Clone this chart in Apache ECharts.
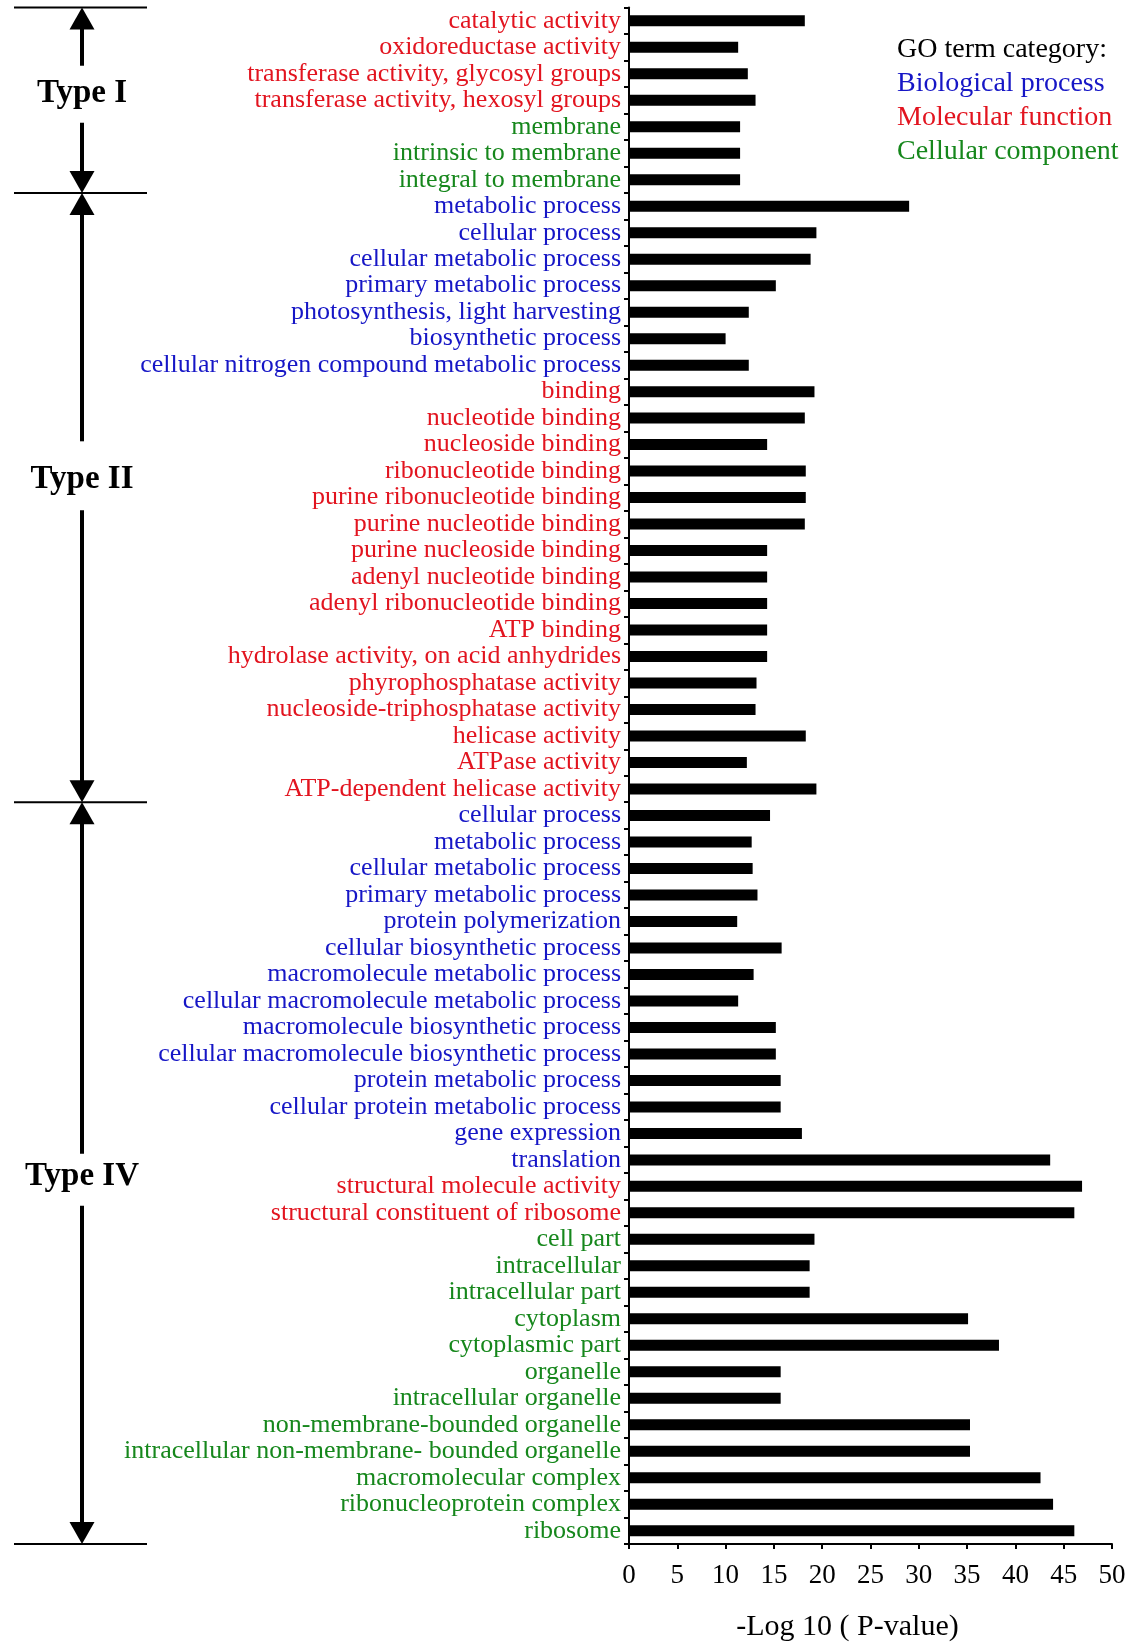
<!DOCTYPE html>
<html><head><meta charset="utf-8">
<script src="https://cdn.jsdelivr.net/npm/echarts@6/dist/echarts.min.js"></script>
<style>html,body{margin:0;padding:0;background:#fff}#chart{width:1138px;height:1649px}</style>
</head><body><div id="chart"></div>
<script>
// ---------- DATA ----------
const categories = [
  'catalytic activity','oxidoreductase activity','transferase activity, glycosyl groups','transferase activity, hexosyl groups',
  'membrane','intrinsic to membrane','integral to membrane',
  'metabolic process','cellular process','cellular metabolic process','primary metabolic process','photosynthesis, light harvesting',
  'biosynthetic process','cellular nitrogen compound metabolic process',
  'binding','nucleotide binding','nucleoside binding','ribonucleotide binding','purine ribonucleotide binding','purine nucleotide binding',
  'purine nucleoside binding','adenyl nucleotide binding','adenyl ribonucleotide binding','ATP binding','hydrolase activity, on acid anhydrides',
  'phyrophosphatase activity','nucleoside-triphosphatase activity','helicase activity','ATPase activity','ATP-dependent helicase activity',
  'cellular process','metabolic process','cellular metabolic process','primary metabolic process','protein polymerization',
  'cellular biosynthetic process','macromolecule metabolic process','cellular macromolecule metabolic process','macromolecule biosynthetic process',
  'cellular macromolecule biosynthetic process','protein metabolic process','cellular protein metabolic process','gene expression','translation',
  'structural molecule activity','structural constituent of ribosome',
  'cell part','intracellular','intracellular part','cytoplasm','cytoplasmic part','organelle','intracellular organelle',
  'non-membrane-bounded organelle','intracellular non-membrane- bounded organelle','macromolecular complex','ribonucleoprotein complex','ribosome'
];
const goTypes = [
  'MF','MF','MF','MF','CC','CC','CC',
  'BP','BP','BP','BP','BP','BP','BP',
  'MF','MF','MF','MF','MF','MF','MF','MF','MF','MF','MF','MF','MF','MF','MF','MF',
  'BP','BP','BP','BP','BP','BP','BP','BP','BP','BP','BP','BP','BP','BP',
  'MF','MF',
  'CC','CC','CC','CC','CC','CC','CC','CC','CC','CC','CC','CC'
];
const values = [
  18.2, 11.3, 12.3, 13.1, 11.5, 11.5, 11.5,
  29.0, 19.4, 18.8, 15.2, 12.4, 10.0, 12.4,
  19.2, 18.2, 14.3, 18.3, 18.3, 18.2, 14.3, 14.3, 14.3, 14.3, 14.3, 13.2, 13.1, 18.3, 12.2, 19.4,
  14.6, 12.7, 12.8, 13.3, 11.2, 15.8, 12.9, 11.3, 15.2, 15.2, 15.7, 15.7, 17.9, 43.6,
  46.9, 46.1,
  19.2, 18.7, 18.7, 35.1, 38.3, 15.7, 15.7, 35.3, 35.3, 42.6, 43.9, 46.1
];
const xMin = 0, xMax = 50, xStep = 5;
const typeGroupNames = ['Type I', 'Type II', 'Type IV'];
const typeGroupSizes = [7, 23, 28];
const legendTitle = 'GO term category:';
const legendKeys = ['BP', 'MF', 'CC'];
const legendNames = ['Biological process', 'Molecular function', 'Cellular component'];
const xAxisName = '-Log 10 ( P-value)';

// ---------- STYLE ----------
const FONT = '"Liberation Serif", "Times New Roman", serif';
const colorOf = { BP: '#1616c6', MF: '#e2141f', CC: '#16871c' };
const typeLabelFrac = [0.465, 0.47, 0.505];
const typeLabelGaps = [[28, 29], [38, 31], [23, 29]];

const chart = echarts.init(document.getElementById('chart'), null, { renderer: 'canvas' });
chart.setOption({
  backgroundColor: '#ffffff',
  animation: false,
  grid: { left: 629, right: 26, top: 7.5, bottom: 105, outerBoundsMode: 'none' },
  xAxis: {
    type: 'value', min: xMin, max: xMax, interval: xStep,
    axisLine: { show: true, lineStyle: { color: '#000', width: 2 } },
    axisTick: { show: true, length: 5, lineStyle: { color: '#000', width: 2 } },
    splitLine: { show: false },
    axisLabel: { fontSize: 27, fontFamily: FONT, color: '#000', margin: 18 },
    name: xAxisName, nameLocation: 'middle', nameGap: 68,
    nameTextStyle: { fontSize: 30, fontFamily: FONT, color: '#000', padding: [0, 46, 0, 0] }
  },
  yAxis: {
    type: 'category', inverse: true,
    data: categories.map((c, i) => String(i)),
    axisLine: { show: true, lineStyle: { color: '#000', width: 2 } },
    axisTick: { show: true, length: 5, lineStyle: { color: '#000', width: 2 } },
    splitLine: { show: false },
    axisLabel: {
      interval: 0, margin: 8, fontSize: 26, fontFamily: FONT,
      formatter: (v, i) => categories[i],
      color: (v, i) => colorOf[goTypes[i]]
    }
  },
  series: [{
    type: 'bar', data: values, barWidth: 11, silent: true,
    itemStyle: { color: '#000' }
  }]
});

// ---------- annotations (brackets, type labels, legend) ----------
const p0 = chart.convertToPixel({ yAxisIndex: 0 }, 0);
const p1 = chart.convertToPixel({ yAxisIndex: 0 }, 1);
const band = p1 - p0;
const boundary = i => chart.convertToPixel({ yAxisIndex: 0 }, i) - band / 2;
const AX = 82, HW = 12.5, HH = 22;
const els = [];
let start = 0;
const bounds = [boundary(0)];
typeGroupNames.forEach((name, g) => {
  const top = boundary(start);
  const bot = boundary(start + typeGroupSizes[g]);
  bounds.push(bot);
  const cy = top + (bot - top) * typeLabelFrac[g];
  const [ga, gb] = typeLabelGaps[g];
  els.push({ type: 'line', shape: { x1: AX, y1: top + HH - 2, x2: AX, y2: cy - ga }, style: { stroke: '#000', lineWidth: 4 } });
  els.push({ type: 'line', shape: { x1: AX, y1: cy + gb, x2: AX, y2: bot - HH + 2 }, style: { stroke: '#000', lineWidth: 4 } });
  els.push({ type: 'polygon', shape: { points: [[AX, top], [AX - HW, top + HH], [AX + HW, top + HH]] }, style: { fill: '#000' } });
  els.push({ type: 'polygon', shape: { points: [[AX, bot], [AX - HW, bot - HH], [AX + HW, bot - HH]] }, style: { fill: '#000' } });
  els.push({ type: 'text', x: AX, y: cy, style: { text: name, font: 'bold 33px ' + FONT, fill: '#000', align: 'center', verticalAlign: 'middle' } });
  start += typeGroupSizes[g];
});
bounds.forEach(b => {
  els.push({ type: 'line', shape: { x1: 14, y1: b, x2: 147, y2: b }, style: { stroke: '#000', lineWidth: 2 } });
});
const LX = 897, LY = 50, LS = 33.8;
els.push({ type: 'text', x: LX, y: LY, style: { text: legendTitle, font: '28px ' + FONT, fill: '#000', verticalAlign: 'middle' } });
legendNames.forEach((n, k) => {
  els.push({ type: 'text', x: LX, y: LY + LS * (k + 1), style: { text: n, font: '28px ' + FONT, fill: colorOf[legendKeys[k]], verticalAlign: 'middle' } });
});
chart.setOption({ graphic: { elements: els } });
</script>
</body></html>
